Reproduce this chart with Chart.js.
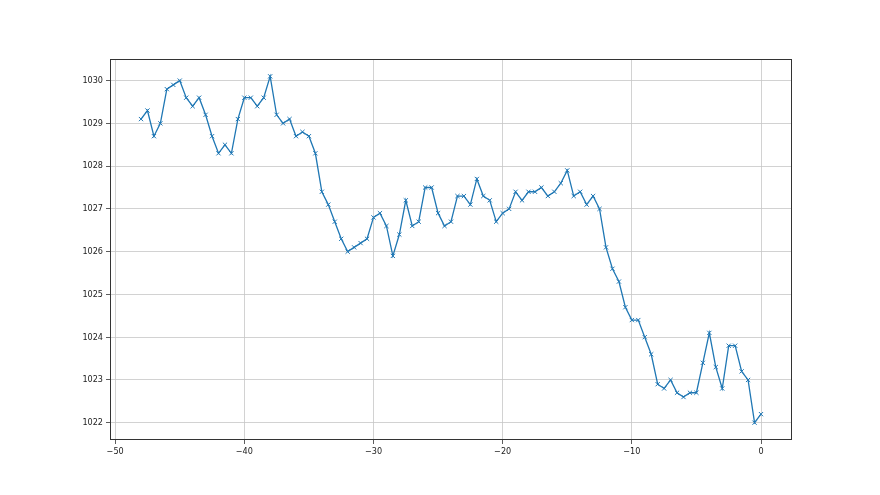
<!DOCTYPE html>
<html>
<head>
<meta charset="utf-8">
<script src="https://cdn.jsdelivr.net/npm/chart.js@4"></script>
<style>
  html, body { margin: 0; padding: 0; background: #fff; }
  canvas { display: block; }
</style>
</head>
<body>
<canvas id="pressureChart" width="880" height="495"></canvas>
<script>
// Hours relative to now
const hours = [
    -48, -47.5, -47, -46.5, -46, -45.5, -45, -44.5, -44, -43.5,
    -43, -42.5, -42, -41.5, -41, -40.5, -40, -39.5, -39, -38.5,
    -38, -37.5, -37, -36.5, -36, -35.5, -35, -34.5, -34, -33.5,
    -33, -32.5, -32, -31.5, -31, -30.5, -30, -29.5, -29, -28.5,
    -28, -27.5, -27, -26.5, -26, -25.5, -25, -24.5, -24, -23.5,
    -23, -22.5, -22, -21.5, -21, -20.5, -20, -19.5, -19, -18.5,
    -18, -17.5, -17, -16.5, -16, -15.5, -15, -14.5, -14, -13.5,
    -13, -12.5, -12, -11.5, -11, -10.5, -10, -9.5, -9, -8.5,
    -8, -7.5, -7, -6.5, -6, -5.5, -5, -4.5, -4, -3.5,
    -3, -2.5, -2, -1.5, -1, -0.5, 0
];

// Pressure readings (hPa)
const pressure = [
    1029.1, 1029.3, 1028.7, 1029.0, 1029.8, 1029.9, 1030.0, 1029.6, 1029.4, 1029.6,
    1029.2, 1028.7, 1028.3, 1028.5, 1028.3, 1029.1, 1029.6, 1029.6, 1029.4, 1029.6,
    1030.1, 1029.2, 1029.0, 1029.1, 1028.7, 1028.8, 1028.7, 1028.3, 1027.4, 1027.1,
    1026.7, 1026.3, 1026.0, 1026.1, 1026.2, 1026.3, 1026.8, 1026.9, 1026.6, 1025.9,
    1026.4, 1027.2, 1026.6, 1026.7, 1027.5, 1027.5, 1026.9, 1026.6, 1026.7, 1027.3,
    1027.3, 1027.1, 1027.7, 1027.3, 1027.2, 1026.7, 1026.9, 1027.0, 1027.4, 1027.2,
    1027.4, 1027.4, 1027.5, 1027.3, 1027.4, 1027.6, 1027.9, 1027.3, 1027.4, 1027.1,
    1027.3, 1027.0, 1026.1, 1025.6, 1025.3, 1024.7, 1024.4, 1024.4, 1024.0, 1023.6,
    1022.9, 1022.8, 1023.0, 1022.7, 1022.6, 1022.7, 1022.7, 1023.4, 1024.1, 1023.3,
    1022.8, 1023.8, 1023.8, 1023.2, 1023.0, 1022.0, 1022.2
];

// Axis ticks
const xTicks = [-50, -40, -30, -20, -10, 0];
const yTicks = [1022, 1023, 1024, 1025, 1026, 1027, 1028, 1029, 1030];

const tickFont = { family: "'DejaVu Sans Condensed', 'DejaVu Sans', sans-serif", size: 9 };

// Draw the full axes frame like matplotlib
const frameBox = {
    id: 'frameBox',
    afterDraw(chart) {
        const a = chart.chartArea;
        const ctx = chart.ctx;
        ctx.save();
        ctx.strokeStyle = '#333';
        ctx.lineWidth = 1;
        ctx.strokeRect(a.left + 0.5, a.top + 0.5, a.right - a.left - 1, a.bottom - a.top - 1);
        ctx.restore();
    }
};

new Chart(document.getElementById('pressureChart'), {
    type: 'line',
    data: {
        datasets: [{
            data: hours.map((h, i) => ({ x: h, y: pressure[i] })),
            borderColor: '#1f77b4',
            backgroundColor: '#1f77b4',
            borderWidth: 1.3,
            tension: 0,
            pointStyle: 'crossRot',
            pointRadius: 3,
            pointBorderWidth: 1,
            pointBorderColor: '#1f77b4',
            pointHoverRadius: 3
        }]
    },
    options: {
        responsive: false,
        animation: false,
        events: [],
        layout: {
            padding: { left: 0, right: 88, top: 59, bottom: 0 }
        },
        plugins: {
            legend: { display: false },
            tooltip: { enabled: false }
        },
        scales: {
            x: {
                type: 'linear',
                min: -50.4,
                max: 2.4,
                afterBuildTicks: scale => { scale.ticks = xTicks.map(v => ({ value: v })); },
                afterFit: scale => { scale.height = 55; },
                border: { display: false },
                grid: {
                    color: '#c6c6c6',
                    lineWidth: 0.8,
                    tickColor: '#333',
                    tickLength: 4
                },
                ticks: {
                    color: '#222',
                    font: tickFont,
                    padding: 2,
                    maxRotation: 0,
                    callback: v => String(v).replace('-', '\u2212')
                }
            },
            y: {
                type: 'linear',
                min: 1021.595,
                max: 1030.505,
                afterBuildTicks: scale => { scale.ticks = yTicks.map(v => ({ value: v })); },
                afterFit: scale => { scale.width = 110; },
                border: { display: false },
                grid: {
                    color: '#c6c6c6',
                    lineWidth: 0.8,
                    tickColor: '#333',
                    tickLength: 4
                },
                ticks: {
                    color: '#222',
                    font: tickFont,
                    padding: 3,
                    callback: v => String(v)
                }
            }
        }
    },
    plugins: [frameBox]
});
</script>
</body>
</html>
